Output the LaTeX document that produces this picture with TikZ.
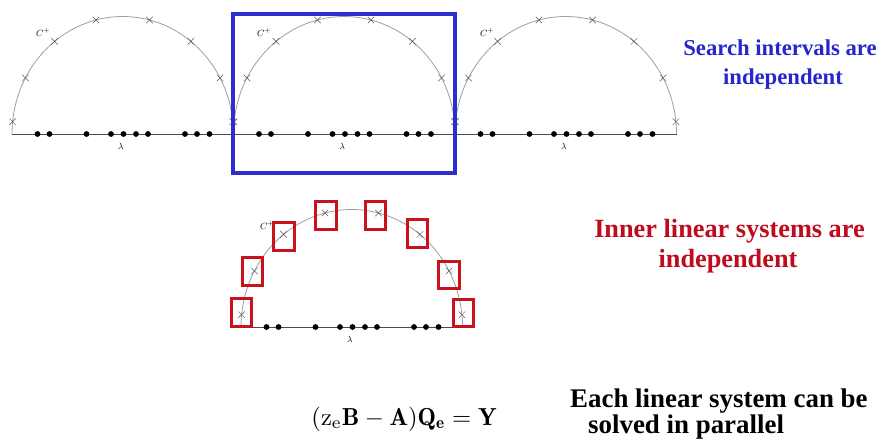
\documentclass[tikz,border=0pt]{standalone}
\usepackage{fontspec}
\newfontfamily\tnr{Liberation Serif}
\usetikzlibrary{shapes.misc}
\definecolor{blueT}{RGB}{38,38,205}
\definecolor{blueR}{RGB}{45,45,210}
\definecolor{redT}{RGB}{190,12,30}
\definecolor{redB}{RGB}{200,18,30}
\tikzset{
  curveline/.style={draw=gray!75, line width=0.8pt},
  axisline/.style={draw=gray!60!black, line width=0.8pt},
  xmark/.style={cross out, draw=gray!70!black, line width=0.5pt, minimum size=6pt, inner sep=0pt},
  dotmark/.style={circle, fill=black, minimum size=5.8pt, inner sep=0pt},
  smalllabel/.style={font=\fontsize{9.5}{11}\selectfont, inner sep=0pt},
  redbox/.style={draw=redB, line width=3pt, minimum width=20.5pt, minimum height=27.5pt, inner sep=0pt},
  bluetext/.style={font=\tnr\bfseries\fontsize{22.7}{26}\selectfont, text=blueT, anchor=base, inner sep=0pt},
  redtext/.style={font=\tnr\bfseries\fontsize{26.3}{30}\selectfont, text=redT, anchor=base, inner sep=0pt},
  blacktext/.style={font=\tnr\bfseries\fontsize{26.9}{30}\selectfont, text=black, anchor=base west, inner sep=0pt},
}
\newcommand{\contour}[3]{% #1 = left x, #2 = baseline y, #3 = name prefix
  \pgfmathsetmacro{\cx}{#1+110.75}
  \draw[curveline] plot[domain=0:180, samples=120, smooth] ({\cx+110.75*cos(\x)},{#2-117.5*sin(\x)});
  \foreach \a [count=\i] in {6,28.5,52,76,104,128,151.5,174}
    \node[xmark] (#3x\i) at ({\cx+110.75*cos(\a)},{#2-117.5*sin(\a)}) {};
  \foreach \d [count=\i] in {25.5,37.5,74.5,99,111.5,124,136,173,185,197.5}
    \node[dotmark] (#3d\i) at ({#1+\d},#2) {};
  \node[smalllabel] (#3lam) at ({\cx-2},{#2+12.5}) {$\lambda$};
}
\begin{document}
\begin{tikzpicture}[x=1pt,y=-1pt]
\useasboundingbox (0,0) rectangle (881,440);
\fill[white] (0,0) rectangle (881,440);

% top row of contours
\coordinate (axL) at (12,134);
\coordinate (axR) at (677,134);
\draw[axisline] (axL) -- (axR);
\contour{12}{134}{a}
\contour{233.5}{134}{b}
\contour{455}{134}{c}
\node[smalllabel] (aC) at (43,32) {$C^{+}$};
\node[smalllabel] (bC) at (264,32) {$C^{+}$};
\node[smalllabel] (cC) at (487,32) {$C^{+}$};

% blue selection rectangle
\node[draw=blueR, line width=4pt, minimum width=221.5pt, minimum height=159pt, inner sep=0pt] (sel) at (343.75,93.5) {};

\node[bluetext] (s1) at (780,55) {Search intervals are};
\node[bluetext] (s2) at (783,84) {independent};

% lower contour with boxes
\coordinate (bL) at (241,327);
\coordinate (bR) at (463,327);
\draw[axisline] (bL) -- (bR);
\contour{241}{327}{d}
\node[smalllabel] (dC) at (267,225) {$C^{+}$};
\node[redbox] (r1) at (241.5,312.5) {};
\node[redbox] (r2) at (252.5,271.5) {};
\node[redbox] (r3) at (284,236.5) {};
\node[redbox] (r4) at (326,215.5) {};
\node[redbox] (r5) at (375.5,215.5) {};
\node[redbox] (r6) at (417.5,233.5) {};
\node[redbox] (r7) at (449,275) {};
\node[redbox] (r8) at (463.5,313) {};

\node[redtext] (i1) at (729.5,237) {Inner linear systems are};
\node[redtext] (i2) at (728,267) {independent};

% equation and final text
\node[anchor=base west, inner sep=0pt, scale=2.46] (eq) at (311,425)
  {$(\mathrm{z}_{\mathrm{e}}\mathbf{B}-\mathbf{A})\mathbf{Q}_{\mathbf{e}}=\mathbf{Y}$};
\node[blacktext] (e1) at (570,407) {Each linear system can be};
\node[blacktext] (e2) at (588,433) {solved in parallel};
\end{tikzpicture}
\end{document}
